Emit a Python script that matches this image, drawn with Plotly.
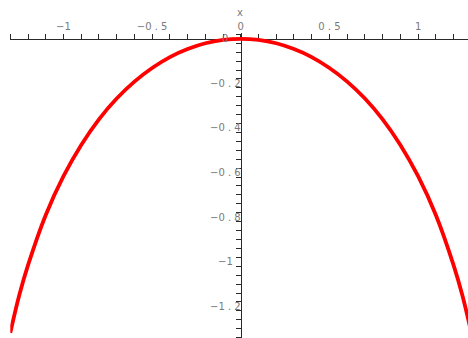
import plotly.graph_objects as go

# curve values
X_VALS = [-1.3, -1.25, -1.2, -1.1, -1.0, -0.9, -0.8, -0.7, -0.6, -0.5, -0.4, -0.3, -0.2, -0.1, 0.0,
          0.1, 0.2, 0.3, 0.4, 0.5, 0.6, 0.7, 0.8, 0.9, 1.0, 1.1, 1.2, 1.25, 1.3]
Y_VALS = [-1.318, -1.151, -1.015, -0.790, -0.616, -0.476, -0.361, -0.268, -0.192, -0.131, -0.082, -0.046, -0.020, -0.005, 0.0,
          -0.005, -0.020, -0.046, -0.082, -0.131, -0.192, -0.268, -0.361, -0.476, -0.616, -0.790, -1.015, -1.151, -1.318]

X_TICKS = [round(-1.3 + 0.1 * i, 2) for i in range(26)]
X_LABELS = {-1.0: "\u22121", -0.5: "\u22120 . 5", 0.0: "0", 0.5: "0 . 5", 1.0: "1"}
Y_TICKS = [round(0.02 - 0.04 * i, 2) for i in range(35)] + [0.0]
Y_LABELS = [0.0, -0.2, -0.4, -0.6, -0.8, -1.0, -1.2]
Y_TEXT = ["0", "\u22120 . 2", "\u22120 . 4", "\u22120 . 6", "\u22120 . 8", "\u22121", "\u22121 . 2"]

W, H = 468, 338
LABEL_FONT = dict(family="DejaVu Sans", size=10, color="#7a7a7a")
AXIS_COLOR = "#2a2a2a"

fig = go.Figure()
fig.add_trace(go.Scatter(
    x=X_VALS, y=Y_VALS, mode="lines",
    line=dict(color="#ff0000", width=3.8, shape="spline"),
    hoverinfo="skip", showlegend=False,
))

ticktext = [X_LABELS.get(round(v, 2), "") for v in X_TICKS]

fig.update_layout(
    width=W, height=H,
    margin=dict(l=0, r=0, t=0, b=0),
    paper_bgcolor="white", plot_bgcolor="white",
    xaxis=dict(
        domain=[10.3 / W, 1], range=[-1.3, (W - 240.8) / 177.3],
        anchor="free", position=1 - 38.8 / H, side="top",
        showline=True, linecolor=AXIS_COLOR, linewidth=1,
        ticks="outside", ticklen=5, tickcolor=AXIS_COLOR, tickwidth=1,
        tickmode="array", tickvals=X_TICKS, ticktext=ticktext,
        tickfont=LABEL_FONT, showgrid=False, zeroline=False, layer="below traces",
    ),
    yaxis=dict(
        domain=[0, 1 - 33 / H], range=[-(H - 38.8) / 223, (38.8 - 33) / 223],
        anchor="free", position=240.8 / W, side="left",
        showline=True, linecolor=AXIS_COLOR, linewidth=1,
        ticks="outside", ticklen=5, tickcolor=AXIS_COLOR, tickwidth=1,
        tickmode="array", tickvals=Y_TICKS, showticklabels=False,
        showgrid=False, zeroline=False, layer="below traces",
    ),
)

for val, txt in zip(Y_LABELS, Y_TEXT):
    fig.add_annotation(
        x=225 / W, xref="paper", y=val, yref="y", text=txt,
        showarrow=False, xanchor="center", yanchor="middle", font=LABEL_FONT,
    )

fig.add_annotation(
    x=240.5 / W, xref="paper", y=1 - 13 / H, yref="paper", text="x",
    showarrow=False, xanchor="center", yanchor="middle", font=LABEL_FONT,
)

# drop the default body margin so the figure sits at the page origin
fig.write_html(
    "out.html",
    config={"displayModeBar": False},
    post_script="document.body.style.margin='0';",
)
